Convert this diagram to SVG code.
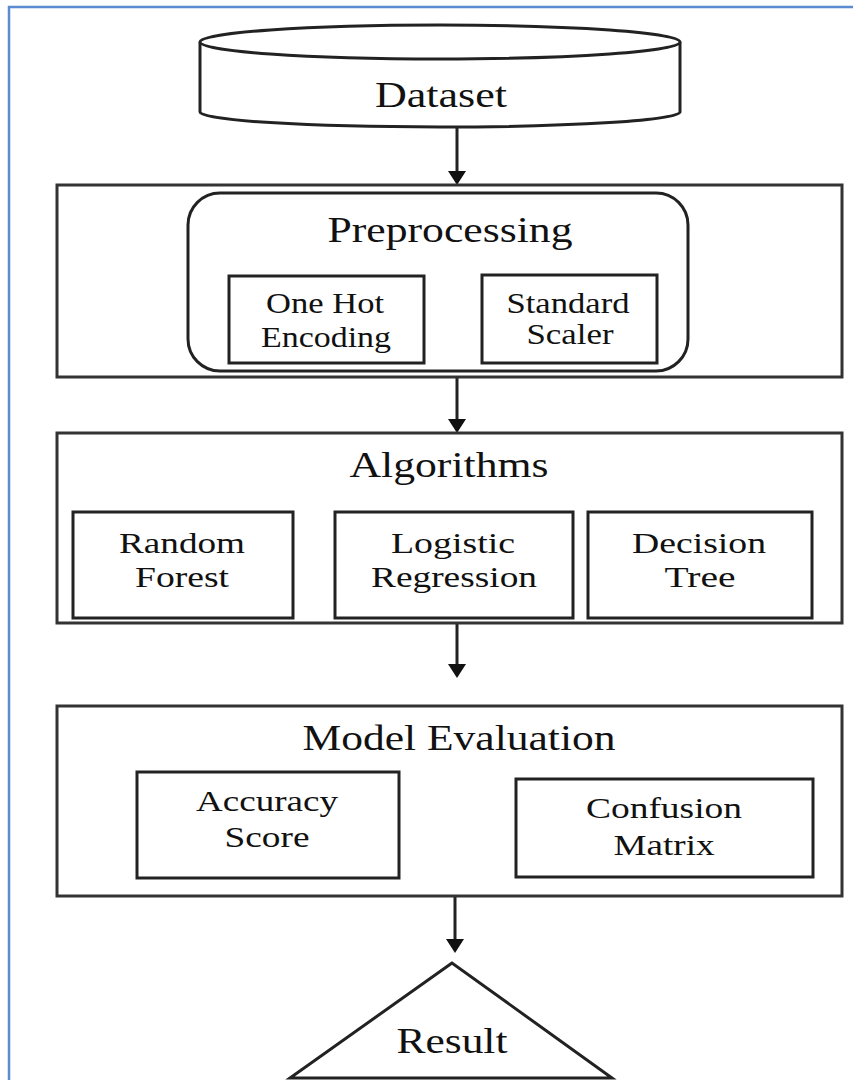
<svg xmlns="http://www.w3.org/2000/svg" width="853" height="1080" viewBox="0 0 853 1080">
  <style>
    .box { fill: #ffffff; stroke: #333333; stroke-width: 3; }
    .inner { fill: #ffffff; stroke: #222222; stroke-width: 3; }
    .t { font-family: "Liberation Serif", "Times New Roman", serif; fill: #111111; text-anchor: middle; }
    .big { font-size: 36px; }
    .small { font-size: 30px; }
    .conn { stroke: #222222; stroke-width: 3; fill: none; }
  </style>
  <defs>
    <marker id="arrow" markerWidth="14" markerHeight="18" viewBox="0 0 14 18" refX="2" refY="9" orient="auto" markerUnits="userSpaceOnUse">
      <path d="M0,0 L14,9 L0,18 z" fill="#111111"/>
    </marker>
  </defs>
  <rect width="853" height="1080" fill="#ffffff"/>
  <g id="frame">
    <path d="M9,1080 L9,7 L853,7" fill="none" stroke="#5b8bd0" stroke-width="2.5"/>
  </g>

  <g id="connectors">
    <line class="conn" x1="457" y1="127" x2="457" y2="173" marker-end="url(#arrow)"/>
    <line class="conn" x1="457" y1="377" x2="457" y2="421" marker-end="url(#arrow)"/>
    <line class="conn" x1="457" y1="623" x2="457" y2="666" marker-end="url(#arrow)"/>
    <line class="conn" x1="455" y1="896" x2="455" y2="941" marker-end="url(#arrow)"/>
  </g>

  <g id="dataset">
    <path d="M200,42 L200,112 A240,15 0 0 0 680,112 L680,42" class="inner"/>
    <ellipse cx="440" cy="42" rx="240" ry="17" class="inner"/>
    <text class="t big" x="441" y="107" textLength="132" lengthAdjust="spacingAndGlyphs">Dataset</text>
  </g>

  <g id="preprocessing">
    <rect class="box" x="57" y="185" width="785" height="192"/>
    <rect class="inner" x="188" y="193" width="500" height="178" rx="32" ry="32"/>
    <text class="t big" x="450" y="242" textLength="245" lengthAdjust="spacingAndGlyphs">Preprocessing</text>
  </g>
  <g id="one-hot-encoding">
    <rect class="inner" x="229" y="276" width="195" height="87"/>
    <text class="t small" x="325" y="313" textLength="118" lengthAdjust="spacingAndGlyphs">One Hot</text>
    <text class="t small" x="326" y="347" textLength="130" lengthAdjust="spacingAndGlyphs">Encoding</text>
  </g>
  <g id="standard-scaler">
    <rect class="inner" x="482" y="275" width="175" height="88"/>
    <text class="t small" x="568" y="313" textLength="123" lengthAdjust="spacingAndGlyphs">Standard</text>
    <text class="t small" x="570" y="344" textLength="87" lengthAdjust="spacingAndGlyphs">Scaler</text>
  </g>

  <g id="algorithms">
    <rect class="box" x="57" y="433" width="785" height="190"/>
    <text class="t big" x="449" y="477" textLength="199" lengthAdjust="spacingAndGlyphs">Algorithms</text>
  </g>
  <g id="random-forest">
    <rect class="inner" x="73" y="512" width="220" height="106"/>
    <text class="t small" x="182" y="553" textLength="126" lengthAdjust="spacingAndGlyphs">Random</text>
    <text class="t small" x="182" y="587" textLength="94" lengthAdjust="spacingAndGlyphs">Forest</text>
  </g>
  <g id="logistic-regression">
    <rect class="inner" x="335" y="512" width="238" height="106"/>
    <text class="t small" x="453" y="553" textLength="124" lengthAdjust="spacingAndGlyphs">Logistic</text>
    <text class="t small" x="454" y="587" textLength="166" lengthAdjust="spacingAndGlyphs">Regression</text>
  </g>
  <g id="decision-tree">
    <rect class="inner" x="588" y="512" width="224" height="106"/>
    <text class="t small" x="699" y="553" textLength="134" lengthAdjust="spacingAndGlyphs">Decision</text>
    <text class="t small" x="700" y="587" textLength="71" lengthAdjust="spacingAndGlyphs">Tree</text>
  </g>

  <g id="model-evaluation">
    <rect class="box" x="57" y="706" width="785" height="190"/>
    <text class="t big" x="459" y="750" textLength="313" lengthAdjust="spacingAndGlyphs">Model Evaluation</text>
  </g>
  <g id="accuracy-score">
    <rect class="inner" x="137" y="772" width="262" height="106"/>
    <text class="t small" x="267" y="811" textLength="142" lengthAdjust="spacingAndGlyphs">Accuracy</text>
    <text class="t small" x="267" y="847" textLength="85" lengthAdjust="spacingAndGlyphs">Score</text>
  </g>
  <g id="confusion-matrix">
    <rect class="inner" x="516" y="779" width="297" height="98"/>
    <text class="t small" x="664" y="818" textLength="156" lengthAdjust="spacingAndGlyphs">Confusion</text>
    <text class="t small" x="664" y="855" textLength="101" lengthAdjust="spacingAndGlyphs">Matrix</text>
  </g>

  <g id="result">
    <polygon class="inner" points="452,963 290,1078 612,1078"/>
    <text class="t big" x="452" y="1053" textLength="111" lengthAdjust="spacingAndGlyphs">Result</text>
  </g>
</svg>
